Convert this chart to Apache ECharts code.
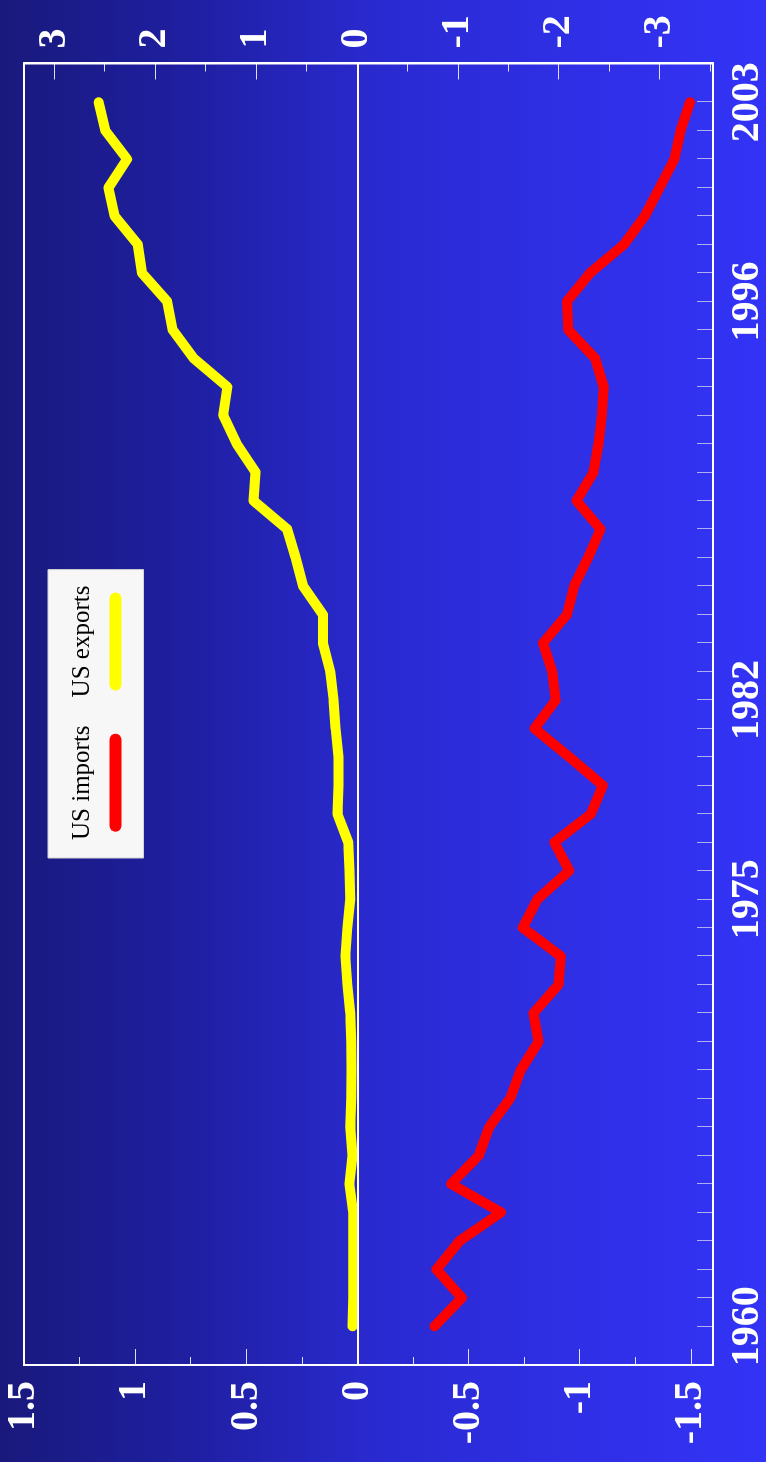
<!DOCTYPE html>
<html>
<head>
<meta charset="utf-8">
<script src="https://cdn.jsdelivr.net/npm/echarts@6.0.0/dist/echarts.min.js"></script>
<style>
  html, body { margin: 0; padding: 0; width: 766px; height: 1462px; overflow: hidden; background: #2626b8; }
  /* the chart is laid out landscape and turned a quarter turn to stand upright */
  #chart { position: absolute; left: 0; top: 0; width: 1462px; height: 766px;
           transform-origin: 0 0; transform: translateY(1462px) rotate(-90deg); }
</style>
</head>
<body>
<div id="chart"></div>
<script>
const years = [1960, 1961, 1962, 1963, 1964, 1965, 1966, 1967, 1968, 1969,
               1970, 1971, 1972, 1973, 1974, 1975, 1976, 1977, 1978, 1979,
               1980, 1981, 1982, 1983, 1984, 1985, 1986, 1987, 1988, 1989,
               1990, 1991, 1992, 1993, 1994, 1995, 1996, 1997, 1998, 1999,
               2000, 2001, 2002, 2003];

const usImports = [-0.347, -0.470, -0.356, -0.460, -0.646, -0.422, -0.546, -0.593, -0.687, -0.735,
                   -0.815, -0.792, -0.905, -0.915, -0.744, -0.810, -0.953, -0.886, -1.051, -1.104,
                   -0.953, -0.797, -0.892, -0.877, -0.835, -0.943, -0.975, -1.038, -1.094, -0.986,
                   -1.062, -1.085, -1.100, -1.108, -1.070, -0.949, -0.943, -1.047, -1.199, -1.293,
                   -1.360, -1.426, -1.454, -1.496];

const usExports = [0.022, 0.019, 0.019, 0.019, 0.019, 0.036, 0.022, 0.032, 0.028, 0.026,
                   0.028, 0.032, 0.045, 0.054, 0.045, 0.032, 0.036, 0.041, 0.090, 0.085,
                   0.085, 0.098, 0.107, 0.122, 0.155, 0.155, 0.244, 0.278, 0.316, 0.467,
                   0.458, 0.543, 0.604, 0.585, 0.736, 0.831, 0.856, 0.969, 0.988, 1.092,
                   1.120, 1.036, 1.134, 1.164];

const yearLabels = [1960, 1975, 1982, 1996, 2003];
const leftTicks = [-1.5, -1, -0.5, 0, 0.5, 1, 1.5];
const leftMinorTicks = [-1.25, -0.75, -0.25, 0.25, 0.75, 1.25];
const rightTicks = [-3, -2, -1, 0, 1, 2, 3];
const rightMinorTicks = [-3.5, -2.5, -1.5, -0.5, 0.5, 1.5, 2.5];

const seriesNames = ['US imports', 'US exports'];
const seriesColors = ['#ff0000', '#ffff00'];

const SERIF = '"Liberation Serif", "Times New Roman", serif';
const labelFont = { color: '#ffffff', fontFamily: SERIF, fontWeight: 'bold', fontSize: 40 };

const LEFT = { min: -1.6, max: 1.5 };
const RIGHT = { min: -3.53, max: 3.3 };

function pairs(values) {
  return years.map((y, i) => [y, values[i]]);
}

const chart = echarts.init(document.getElementById('chart'), null, { renderer: 'canvas' });

chart.setOption({
  animation: false,
  backgroundColor: {
    type: 'linear', x: 0, y: 0, x2: 0, y2: 1,
    colorStops: [
      { offset: 0, color: '#19197c' },
      { offset: 0.25, color: '#1f1fa2' },
      { offset: 0.5, color: '#2a2ad2' },
      { offset: 0.75, color: '#2f2fe6' },
      { offset: 1, color: '#3333f6' }
    ]
  },
  grid: {
    left: 97, right: 63.5, top: 24, bottom: 53,
    show: true, borderColor: '#ffffff', borderWidth: 2,
    backgroundColor: 'transparent',
    outerBoundsMode: 'none'
  },
  legend: {
    data: seriesNames,
    left: 604, top: 48,
    orient: 'horizontal',
    icon: 'rect',
    itemWidth: 0, itemHeight: 0,
    itemGap: 23,
    padding: [22, 16, 22, 13],
    backgroundColor: '#f7f7f7',
    borderColor: '#d4d4d4', borderWidth: 1, borderRadius: 0,
    formatter: name => `{n|${name}}\n{gap|}\n{${name === 'US imports' ? 'imp' : 'exp'}|}`,
    textStyle: {
      rich: {
        n: { fontFamily: SERIF, fontSize: 25, lineHeight: 30, color: '#000000', align: 'center' },
        gap: { height: 12, lineHeight: 12, align: 'center' },
        imp: { width: 98, height: 12, lineHeight: 12, backgroundColor: seriesColors[0], borderRadius: 6, align: 'center' },
        exp: { width: 98, height: 12, lineHeight: 12, backgroundColor: seriesColors[1], borderRadius: 6, align: 'center' }
      }
    }
  },
  xAxis: {
    type: 'value',
    min: 1958.64, max: 2004.36,
    position: 'bottom',
    axisLine: { show: true, onZero: false, lineStyle: { color: '#ffffff', width: 2 } },
    axisTick: { show: true, inside: true, length: 16, customValues: years,
                lineStyle: { color: 'rgba(255,255,255,0.6)', width: 1 } },
    axisLabel: Object.assign({ margin: 15, customValues: yearLabels, formatter: v => String(v) }, labelFont),
    splitLine: { show: false }
  },
  yAxis: [
    {
      type: 'value', position: 'left', min: LEFT.min, max: LEFT.max,
      axisLine: { show: true, lineStyle: { color: '#ffffff', width: 2 } },
      axisTick: { show: true, inside: true, length: 16, customValues: leftTicks,
                  lineStyle: { color: 'rgba(255,255,255,0.85)', width: 1 } },
      axisLabel: Object.assign({ margin: 16, customValues: leftTicks, formatter: v => String(v) }, labelFont),
      splitLine: { show: false }
    },
    {
      type: 'value', position: 'right', min: RIGHT.min, max: RIGHT.max,
      axisLine: { show: true, lineStyle: { color: '#ffffff', width: 2 } },
      axisTick: { show: true, inside: true, length: 16, customValues: rightTicks,
                  lineStyle: { color: 'rgba(255,255,255,0.85)', width: 1 } },
      axisLabel: Object.assign({ margin: 15, customValues: rightTicks, formatter: v => String(v) }, labelFont),
      splitLine: { show: false }
    },
    {
      type: 'value', position: 'left', min: LEFT.min, max: LEFT.max,
      axisLine: { show: false },
      axisTick: { show: true, inside: true, length: 8, customValues: leftMinorTicks,
                  lineStyle: { color: 'rgba(255,255,255,0.85)', width: 1 } },
      axisLabel: { show: false },
      splitLine: { show: false }
    },
    {
      type: 'value', position: 'right', min: RIGHT.min, max: RIGHT.max,
      axisLine: { show: false },
      axisTick: { show: true, inside: true, length: 8, customValues: rightMinorTicks,
                  lineStyle: { color: 'rgba(255,255,255,0.85)', width: 1 } },
      axisLabel: { show: false },
      splitLine: { show: false }
    }
  ],
  series: [
    {
      name: seriesNames[0], type: 'line', yAxisIndex: 0,
      data: pairs(usImports),
      showSymbol: false, symbol: 'none',
      lineStyle: { color: seriesColors[0], width: 10, cap: 'round', join: 'round' },
      itemStyle: { color: seriesColors[0] }
    },
    {
      name: seriesNames[1], type: 'line', yAxisIndex: 0,
      data: pairs(usExports),
      showSymbol: false, symbol: 'none',
      lineStyle: { color: seriesColors[1], width: 10, cap: 'round', join: 'round' },
      itemStyle: { color: seriesColors[1] },
      markLine: {
        silent: true, symbol: ['none', 'none'], label: { show: false },
        lineStyle: { color: '#ffffff', width: 2, type: 'solid' },
        data: [{ yAxis: 0 }]
      }
    }
  ]
});
</script>
</body>
</html>
